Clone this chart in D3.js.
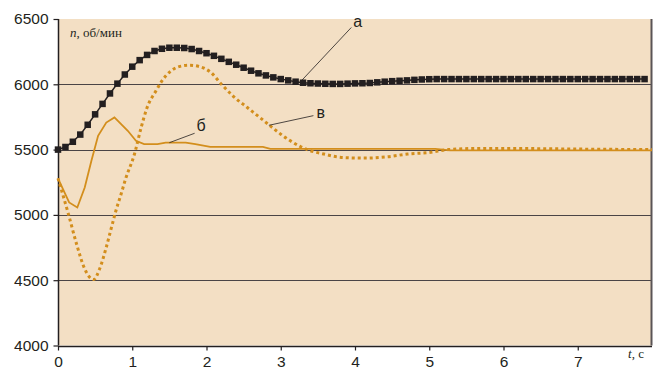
<!DOCTYPE html>
<html lang="ru">
<head>
<meta charset="utf-8">
<title>n(t)</title>
<script src="https://cdn.jsdelivr.net/npm/d3@7/dist/d3.min.js"></script>
<style>
  body { margin: 0; background: #fff; }
  svg { display: block; }
  .tick-label { font: 15.5px "Liberation Sans", Arial, sans-serif; fill: #231f20; }
  .unit { font: 13px "Liberation Serif", "Times New Roman", serif; fill: #231f20; }
  .curve-label { font: 16px "Liberation Sans", Arial, sans-serif; fill: #231f20; }
</style>
</head>
<body>
<div id="chart"></div>
<script>
// axis ticks
const xTicks = [0, 1, 2, 3, 4, 5, 6, 7];
const yTicks = [4000, 4500, 5000, 5500, 6000, 6500];

// curve "а" (black, square markers), sampled every 0.1 s
const tA = d3.range(0, 80).map(i => i / 10);
const nA = [5500, 5520, 5560, 5615, 5690, 5770, 5850, 5930, 6005, 6075,
            6135, 6185, 6225, 6255, 6272, 6280, 6280, 6278, 6270, 6255,
            6238, 6218, 6195, 6172, 6150, 6127, 6104, 6084, 6068, 6053,
            6040, 6030, 6020, 6012, 6008, 6006, 6004, 6003, 6003, 6005,
            6007, 6008, 6010, 6015, 6020, 6024, 6027, 6030, 6034, 6037,
            6039, 6040, 6040, 6040, 6040, 6040, 6040, 6040, 6040, 6040,
            6040, 6040, 6040, 6040, 6040, 6040, 6040, 6040, 6040, 6040,
            6040, 6040, 6040, 6040, 6040, 6040, 6040, 6040, 6040, 6040];

// curve "б" (solid orange)
const tB = [0, 0.15, 0.26, 0.36, 0.45, 0.54, 0.65, 0.76, 0.94, 1.05, 1.16, 1.34, 1.45, 1.72, 1.85, 2.05, 2.76, 2.86, 5.08, 5.28, 8];
const nB = [5280, 5095, 5057, 5210, 5414, 5606, 5707, 5746, 5644, 5567, 5542, 5542, 5554, 5554, 5542, 5521, 5521, 5506, 5506, 5494, 5494];

// curve "в" (dotted orange)
const tV = [0, 0.14, 0.25, 0.36, 0.48, 0.56, 0.65, 0.72, 0.78, 0.85, 0.91, 1.03, 1.12, 1.2, 1.32, 1.4, 1.52, 1.63, 1.77, 1.91, 2.06, 2.2, 2.37, 2.55, 2.72, 2.84, 3.0, 3.13, 3.27, 3.4, 3.58, 3.82, 4.12, 4.44, 4.71, 5.0, 5.26, 5.6, 6.2, 7, 8];
const nV = [5280, 5007, 4777, 4586, 4505, 4586, 4752, 4904, 5032, 5160, 5275, 5466, 5669, 5822, 5950, 6026, 6102, 6135, 6146, 6135, 6090, 6001, 5904, 5822, 5745, 5690, 5618, 5567, 5521, 5491, 5466, 5440, 5435, 5445, 5466, 5478, 5500, 5508, 5508, 5504, 5500];

const width = 653, height = 369;
const x = d3.scaleLinear().domain([0, 8]).range([58, 652]);
const y = d3.scaleLinear().domain([4000, 6500]).range([345.5, 19]);

const svg = d3.select("#chart").append("svg")
  .attr("width", width).attr("height", height);

// plot background
svg.append("rect")
  .attr("x", x(0)).attr("y", y(6500))
  .attr("width", x(8) - x(0)).attr("height", y(4000) - y(6500))
  .attr("fill", "#f3dfc4");

// gridlines
svg.append("g").selectAll("line")
  .data(yTicks.filter(d => d > 4000 && d < 6500))
  .join("line")
  .attr("x1", x(0)).attr("x2", x(8))
  .attr("y1", d => Math.round(y(d)) + 0.5).attr("y2", d => Math.round(y(d)) + 0.5)
  .attr("stroke", "#4a4446").attr("stroke-width", 1);

// right frame
svg.append("line")
  .attr("x1", 651.5).attr("x2", 651.5).attr("y1", y(6500)).attr("y2", y(4000))
  .attr("stroke", "#5a5456").attr("stroke-width", 2);

// axes
const yAxis = svg.append("g").attr("transform", "translate(58.5,0)")
  .call(d3.axisLeft(y).tickValues(yTicks).tickSize(5).tickPadding(5).tickFormat(d3.format("d")));
const xAxis = svg.append("g").attr("transform", `translate(0,${Math.round(y(4000)) + 0.5})`)
  .call(d3.axisBottom(x).tickValues(xTicks).tickSize(4).tickPadding(5).tickFormat(d3.format("d")));
[yAxis, xAxis].forEach(a => {
  a.select(".domain").attr("stroke", "#231f20").attr("stroke-width", 1.5);
  a.selectAll(".tick line").attr("stroke", "#231f20").attr("stroke-width", 1.2);
  a.selectAll(".tick text").attr("class", "tick-label").attr("fill", "#231f20");
});
xAxis.select(".domain").attr("d", `M${x(0)},0H${x(8)}`);
yAxis.select(".domain").attr("d", `M0,${y(6500)}V${y(4000)}`);

const line = d3.line().x(d => x(d[0])).y(d => y(d[1]));

// в — dotted
svg.append("path")
  .datum(d3.zip(tV, nV))
  .attr("d", line.curve(d3.curveMonotoneX))
  .attr("fill", "none").attr("stroke", "#d38e1c")
  .attr("stroke-width", 3).attr("stroke-dasharray", "3,3");

// б — solid
svg.append("path")
  .datum(d3.zip(tB, nB))
  .attr("d", line.curve(d3.curveLinear))
  .attr("fill", "none").attr("stroke", "#d38e1c").attr("stroke-width", 1.8);

// а — black with square markers
const dataA = d3.zip(tA, nA);
svg.append("path")
  .datum(dataA)
  .attr("d", line.curve(d3.curveLinear))
  .attr("fill", "none").attr("stroke", "#231f20").attr("stroke-width", 1.5);
svg.append("g").selectAll("rect")
  .data(dataA)
  .join("rect")
  .attr("x", d => x(d[0]) - 3.25).attr("y", d => y(d[1]) - 3.25)
  .attr("width", 6.5).attr("height", 6.5)
  .attr("fill", "#231f20");

// leader lines and curve labels
const leaders = [
  { t: 3.25, n: 6010, t2: 3.95, n2: 6435, label: "а", dx: 2, dy: 0 },
  { t: 1.5, n: 5553, t2: 1.84, n2: 5625, label: "б", dx: 2, dy: -2 },
  { t: 2.84, n: 5686, t2: 3.44, n2: 5760, label: "в", dx: 3, dy: 2 }
];
leaders.forEach(l => {
  svg.append("line")
    .attr("x1", x(l.t)).attr("y1", y(l.n)).attr("x2", x(l.t2)).attr("y2", y(l.n2))
    .attr("stroke", "#231f20").attr("stroke-width", 0.8);
  svg.append("text").attr("class", "curve-label")
    .attr("x", x(l.t2) + l.dx).attr("y", y(l.n2) + l.dy)
    .text(l.label);
});

// axis titles
const yTitle = svg.append("text").attr("class", "unit").attr("x", 70).attr("y", 37);
yTitle.append("tspan").attr("font-style", "italic").text("n");
yTitle.append("tspan").text(", об/мин");
const xTitle = svg.append("text").attr("class", "unit").attr("x", 628).attr("y", 358);
xTitle.append("tspan").attr("font-style", "italic").text("t");
xTitle.append("tspan").text(", с");
</script>
</body>
</html>
